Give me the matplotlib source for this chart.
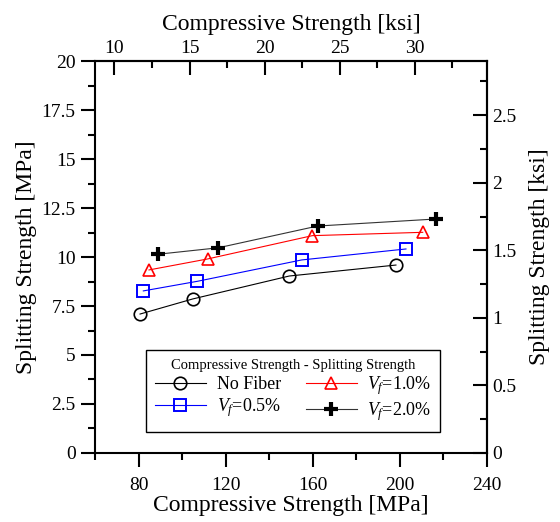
import matplotlib
matplotlib.use("Agg")
import matplotlib.pyplot as plt
from matplotlib.ticker import FixedLocator

plt.rcParams['font.family'] = ['Liberation Serif', 'DejaVu Serif']
plt.rcParams['mathtext.fontset'] = 'custom'
plt.rcParams['mathtext.rm'] = 'Liberation Serif'
plt.rcParams['mathtext.it'] = 'Liberation Serif:italic'

# Data (MPa)
nofiber_x = [80.7, 104.9, 149.2, 198.2]
nofiber_y = [7.09, 7.86, 9.03, 9.59]
vf05_x = [82.2, 107.0, 154.9, 202.8]
vf05_y = [8.27, 8.76, 9.85, 10.41]
vf10_x = [84.8, 111.7, 159.8, 210.5]
vf10_y = [9.34, 9.90, 11.09, 11.26]
vf20_x = [88.8, 116.6, 162.2, 216.6]
vf20_y = [10.14, 10.47, 11.58, 11.94]

x_ticks = [80, 120, 160, 200, 240]
y_ticks = [0, 2.5, 5, 7.5, 10, 12.5, 15, 17.5, 20]
y_ticklabels = ['0', '2.5', '5', '7.5', '10', '12.5', '15', '17.5', '20']
ksi_x_ticks = [10, 15, 20, 25, 30]
ksi_y_ticks = [0, 0.5, 1, 1.5, 2, 2.5]
ksi_y_ticklabels = ['0', '0.5', '1', '1.5', '2', '2.5']

MPA_PER_KSI = 6.895
TL = 14   # tick label size
AL = 17   # axis label size

fig = plt.figure(figsize=(5.6, 5.22), dpi=100)
ax = fig.add_axes([0.1696, 0.1322, 0.7, 0.7509])

ax.plot(nofiber_x, nofiber_y, color='black', lw=0.8, marker='o', ms=9,
        mfc='none', mec='black', mew=1.2, label='No Fiber')
ax.plot(vf05_x, vf05_y, color='blue', lw=0.8, marker='s', ms=9,
        mfc='none', mec='blue', mew=1.4, label='$V_f$=0.5%')
ax.plot(vf10_x, vf10_y, color='red', lw=0.8, marker='^', ms=9,
        mfc='none', mec='red', mew=1.2, label='$V_f$=1.0%')
ax.plot(vf20_x, vf20_y, color='#333333', lw=0.8, marker='+', ms=10,
        mec='black', mew=3, label='$V_f$=2.0%')

ax.set_xlim(60, 240)
ax.set_ylim(0, 20)
ax.set_xticks(x_ticks)
ax.xaxis.set_minor_locator(FixedLocator([60, 100, 140, 180, 220]))
ax.set_yticks(y_ticks)
ax.set_yticklabels(y_ticklabels)
ax.yaxis.set_minor_locator(FixedLocator([1.25, 3.75, 6.25, 8.75, 11.25, 13.75, 16.25, 18.75]))

for s in ax.spines.values():
    s.set_linewidth(1.5)

ax.tick_params(axis='both', which='major', direction='out', length=10, width=1.5,
               labelsize=TL)
ax.tick_params(axis='both', which='minor', direction='out', length=5, width=1.5)
ax.tick_params(axis='x', which='major', pad=7)
ax.tick_params(axis='y', which='major', pad=4)

ax.set_xlabel('Compressive Strength [MPa]', fontsize=AL, labelpad=1)
ax.set_ylabel('Splitting Strength [MPa]', fontsize=AL, labelpad=3)

top = ax.secondary_xaxis('top', functions=(lambda x: x / MPA_PER_KSI,
                                           lambda x: x * MPA_PER_KSI))
top.set_xticks(ksi_x_ticks)
top.xaxis.set_minor_locator(FixedLocator([7.5, 12.5, 17.5, 22.5, 27.5, 32.5]))
top.tick_params(which='major', direction='in', length=10, width=1.5, labelsize=TL, pad=3)
top.tick_params(which='minor', direction='in', length=5, width=1.5)
top.set_xlabel('Compressive Strength [ksi]', fontsize=AL, labelpad=7)
top.spines['top'].set_linewidth(1.5)

right = ax.secondary_yaxis('right', functions=(lambda y: y / MPA_PER_KSI,
                                               lambda y: y * MPA_PER_KSI))
right.set_yticks(ksi_y_ticks)
right.set_yticklabels(ksi_y_ticklabels)
right.yaxis.set_minor_locator(FixedLocator([0.25, 0.75, 1.25, 1.75, 2.25, 2.75]))
right.tick_params(which='major', direction='in', length=10, width=1.5, labelsize=TL, pad=4)
right.tick_params(which='minor', direction='in', length=5, width=1.5)
right.set_ylabel('Splitting Strength [ksi]', fontsize=AL, labelpad=9)
right.spines['right'].set_linewidth(1.5)

leg = ax.legend(ncol=2, loc='lower center', bbox_to_anchor=(0.506, 0.054),
                borderaxespad=0,
                title='Compressive Strength - Splitting Strength',
                title_fontsize=10.5, fontsize=13, fancybox=False,
                edgecolor='black', framealpha=1, handlelength=2.8,
                columnspacing=1.4, borderpad=0.5, labelspacing=0.15,
                handletextpad=0.6)
leg.get_frame().set_linewidth(1.0)

fig.savefig('out.png', dpi=100)
